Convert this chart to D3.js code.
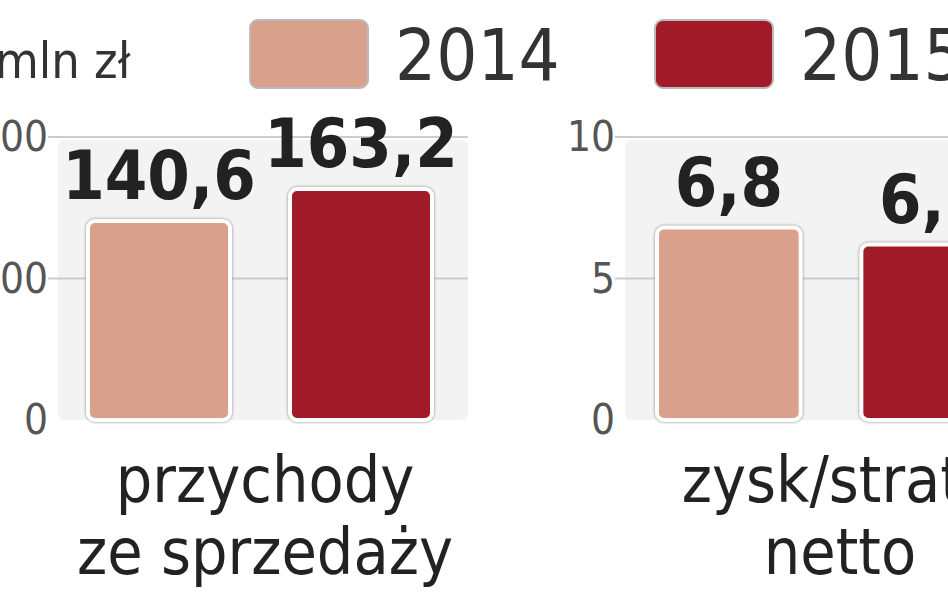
<!DOCTYPE html>
<html><head><meta charset="utf-8">
<script src="https://cdn.jsdelivr.net/npm/d3@7"></script>
<style>body{margin:0;background:#fff;overflow:hidden}</style>
</head><body>
<script>
// chart data
const years = ["2014", "2015"];
const colors = ["#d9a08c", "#a01a28"];
const panels = ["przychody|ze sprzedaży", "zysk/strata|netto"];
const values = [[140.6, 163.2], [6.8, 6.2]];
const labels = [["140,6", "163,2"], ["6,8", "6,2"]];
const maxes = [200, 10];
const ticks = [[0, 100, 200], [0, 5, 10]];

const W = 948, H = 593;
const svg = d3.select("body").append("svg").attr("width", W).attr("height", H);
const cond = "'Liberation Sans Narrow','DejaVu Sans Condensed',sans-serif";

// legend
svg.append("text").attr("x", -5).attr("y", 78).attr("font-family", cond)
  .attr("font-size", 50).attr("fill", "#333").text("mln zł");
const legX = [250, 655];
years.forEach((y, i) => {
  svg.append("rect").attr("x", legX[i]).attr("y", 20).attr("width", 118).attr("height", 68)
    .attr("rx", 8).attr("fill", colors[i]).attr("stroke", "#bbb").attr("stroke-width", 2);
  svg.append("text").attr("x", legX[i] + 145).attr("y", 80).attr("font-family", cond)
    .attr("font-size", 72).attr("fill", "#333").text(y);
});

const panelX = [[58, 468], [625, 1040]];
const barX = [[88, 432], [657, 1005]];
const y0 = 420, y1 = 137;

panels.forEach((p, k) => {
  const y = d3.scaleLinear().domain([0, maxes[k]]).range([y0, y1]);
  const x = d3.scaleBand().domain(years).range(barX[k]).paddingInner(60 / 202).paddingOuter(0);
  const g = svg.append("g");
  g.append("rect").attr("x", panelX[k][0]).attr("y", y1 + 3).attr("width", panelX[k][1] - panelX[k][0])
    .attr("height", y0 - y1 - 3).attr("fill", "#f3f3f3").attr("rx", 6);
  g.selectAll(".grid").data(ticks[k].slice(1)).join("line")
    .attr("x1", panelX[k][0] - 10).attr("x2", panelX[k][1]).attr("y1", y).attr("y2", y)
    .attr("stroke", "#ccc").attr("stroke-width", 2);
  g.selectAll(".tick").data(ticks[k]).join("text")
    .attr("x", panelX[k][0] - 10).attr("y", d => y(d) + 14).attr("text-anchor", "end")
    .attr("font-family", cond).attr("font-size", 42).attr("fill", "#555").text(d => d);
  g.selectAll(".bar").data(values[k]).join("rect")
    .attr("x", (d, i) => x(years[i])).attr("y", d => y(d))
    .attr("width", x.bandwidth()).attr("height", d => y0 - y(d))
    .attr("rx", 7).attr("fill", (d, i) => colors[i])
    .attr("stroke", "#fff").attr("stroke-width", 4)
    .style("filter", "drop-shadow(0 0 1.5px #888)");
  g.selectAll(".val").data(values[k]).join("text")
    .attr("x", (d, i) => x(years[i]) + x.bandwidth() / 2).attr("y", d => y(d) - 22)
    .attr("text-anchor", "middle").attr("font-family", cond).attr("font-weight", "bold")
    .attr("font-size", 68).attr("fill", "#222").text((d, i) => labels[k][i]);
  p.split("|").forEach((t, j) => {
    g.append("text").attr("x", k === 0 ? 265 : 840).attr("y", 502 + j * 72).attr("text-anchor", "middle")
      .attr("font-family", cond).attr("font-size", 64).attr("fill", "#222").text(t);
  });
});
</script>
</body></html>
